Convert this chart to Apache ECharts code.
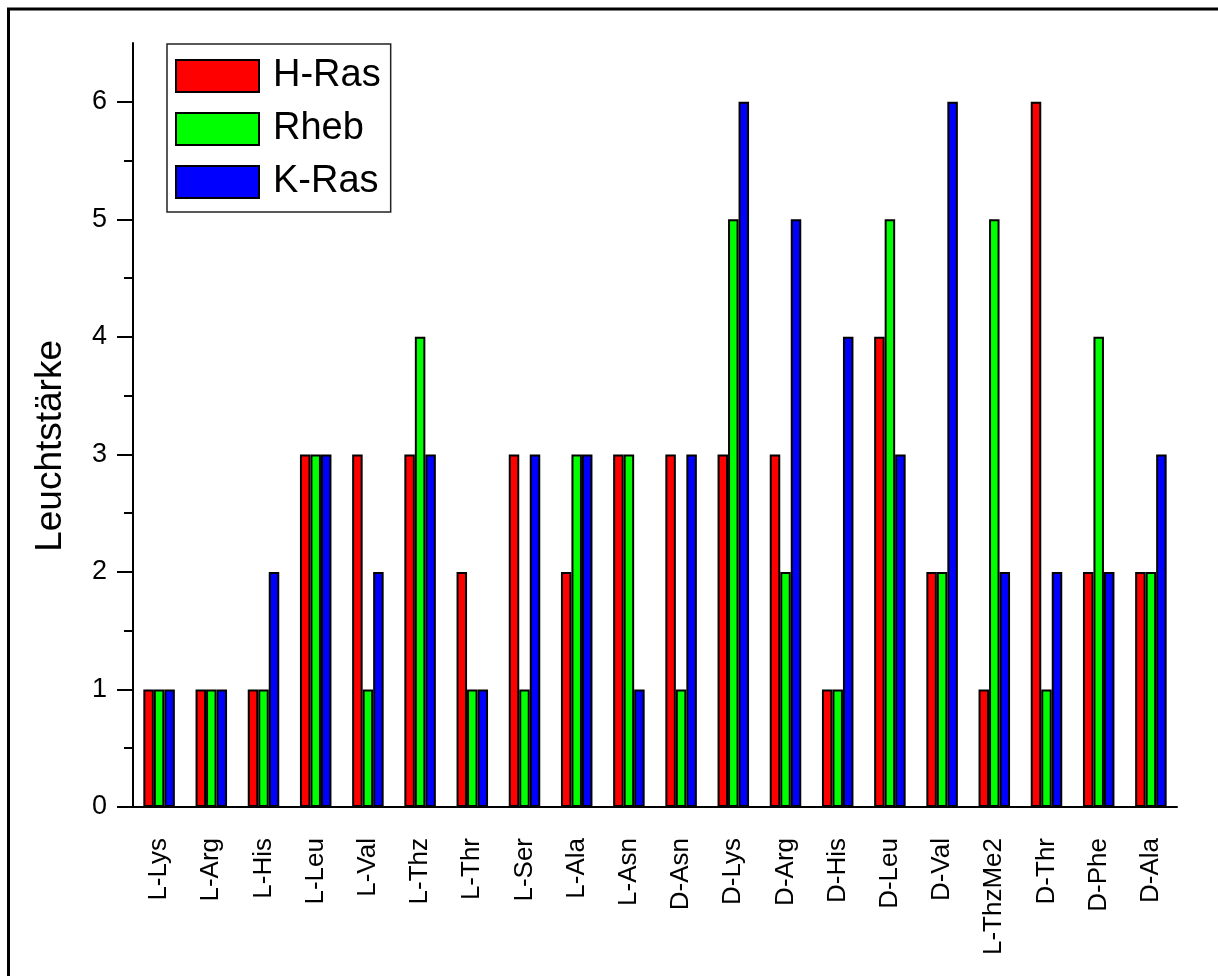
<!DOCTYPE html>
<html>
<head>
<meta charset="utf-8">
<script src="https://cdn.jsdelivr.net/npm/echarts@6/dist/echarts.min.js"></script>
<style>
  html, body { margin: 0; padding: 0; background: #fff; }
  #chart { width: 1218px; height: 976px; }
</style>
</head>
<body>
<div id="chart"></div>
<script>
// Amino acid substrates along the x axis
const categories = ['L-Lys', 'L-Arg', 'L-His', 'L-Leu', 'L-Val', 'L-Thz', 'L-Thr', 'L-Ser', 'L-Ala', 'L-Asn',
  'D-Asn', 'D-Lys', 'D-Arg', 'D-His', 'D-Leu', 'D-Val', 'L-ThzMe2', 'D-Thr', 'D-Phe', 'D-Ala'];

// Luminosity score per protein
const hRas = [1, 1, 1, 3, 3, 3, 2, 3, 2, 3, 3, 3, 3, 1, 4, 2, 1, 6, 2, 2];
const rheb = [1, 1, 1, 3, 1, 4, 1, 1, 3, 3, 1, 5, 2, 1, 5, 2, 5, 1, 4, 2];
const kRas = [1, 1, 2, 3, 2, 3, 1, 3, 3, 1, 3, 6, 5, 4, 3, 6, 2, 2, 2, 3];

// Y axis tick positions
const majorTicks = [0, 1, 2, 3, 4, 5, 6];
const minorTicks = [0.5, 1.5, 2.5, 3.5, 4.5, 5.5];

const FONT = 'Liberation Sans, Arial, Helvetica, sans-serif';
const chart = echarts.init(document.getElementById('chart'), null, { renderer: 'canvas' });

const barStyle = (color) => ({ color: color, borderColor: '#000', borderWidth: 2, borderRadius: 0 });

chart.setOption({
  backgroundColor: '#fff',
  animation: false,
  grid: { left: 133, top: 43, right: 41, bottom: 169, containLabel: false },
  graphic: [
    {
      type: 'rect', z: 100, silent: true,
      shape: { x: 8.5, y: 9, width: 1240, height: 1000 },
      style: { fill: 'none', stroke: '#000', lineWidth: 3 }
    },
    {
      type: 'text', z: 100, silent: true,
      left: 32, top: 340,
      rotation: Math.PI / 2,
      originX: 0, originY: 0,
      style: { text: 'Leuchtstärke', font: '37px ' + FONT, fill: '#000' }
    }
  ],
  legend: {
    orient: 'vertical',
    left: 167, top: 44,
    padding: [13, 10, 11, 8],
    borderColor: '#222', borderWidth: 1.5,
    icon: 'rect',
    itemWidth: 83, itemHeight: 32, itemGap: 15,
    itemStyle: { borderColor: '#000', borderWidth: 2 },
    textStyle: { fontSize: 38, fontFamily: FONT, color: '#000', lineHeight: 32, padding: [0, 0, 0, 9] },
    data: ['H-Ras', 'Rheb', 'K-Ras']
  },
  xAxis: {
    type: 'category',
    data: categories,
    boundaryGap: true,
    axisLine: { lineStyle: { color: '#000', width: 2 } },
    axisTick: { alignWithLabel: true, inside: false, length: 16, lineStyle: { color: '#000', width: 2 } },
    axisLabel: { rotate: 90, margin: 31, fontSize: 26, fontFamily: FONT, color: '#000', interval: 0 },
    splitLine: { show: false }
  },
  yAxis: [
    {
      type: 'value', min: 0, max: 6.5,
      axisLine: { show: true, lineStyle: { color: '#000', width: 2 } },
      axisTick: { show: true, length: 16, customValues: majorTicks, lineStyle: { color: '#000', width: 2 } },
      axisLabel: { customValues: majorTicks, margin: 26, fontSize: 27, fontFamily: FONT, color: '#000' },
      splitLine: { show: false }
    },
    {
      type: 'value', min: 0, max: 6.5,
      axisLine: { show: false },
      axisTick: { show: true, length: 9, customValues: minorTicks, lineStyle: { color: '#000', width: 2 } },
      axisLabel: { show: false },
      splitLine: { show: false },
      position: 'left'
    }
  ],
  series: [
    { name: 'H-Ras', type: 'bar', data: hRas, barWidth: 10.5, barGap: '0%', itemStyle: barStyle('#ff0000') },
    { name: 'Rheb', type: 'bar', data: rheb, barWidth: 10.5, barGap: '0%', itemStyle: barStyle('#00ff00') },
    { name: 'K-Ras', type: 'bar', data: kRas, barWidth: 10.5, barGap: '0%', itemStyle: barStyle('#0000ff') }
  ]
});
</script>
</body>
</html>
